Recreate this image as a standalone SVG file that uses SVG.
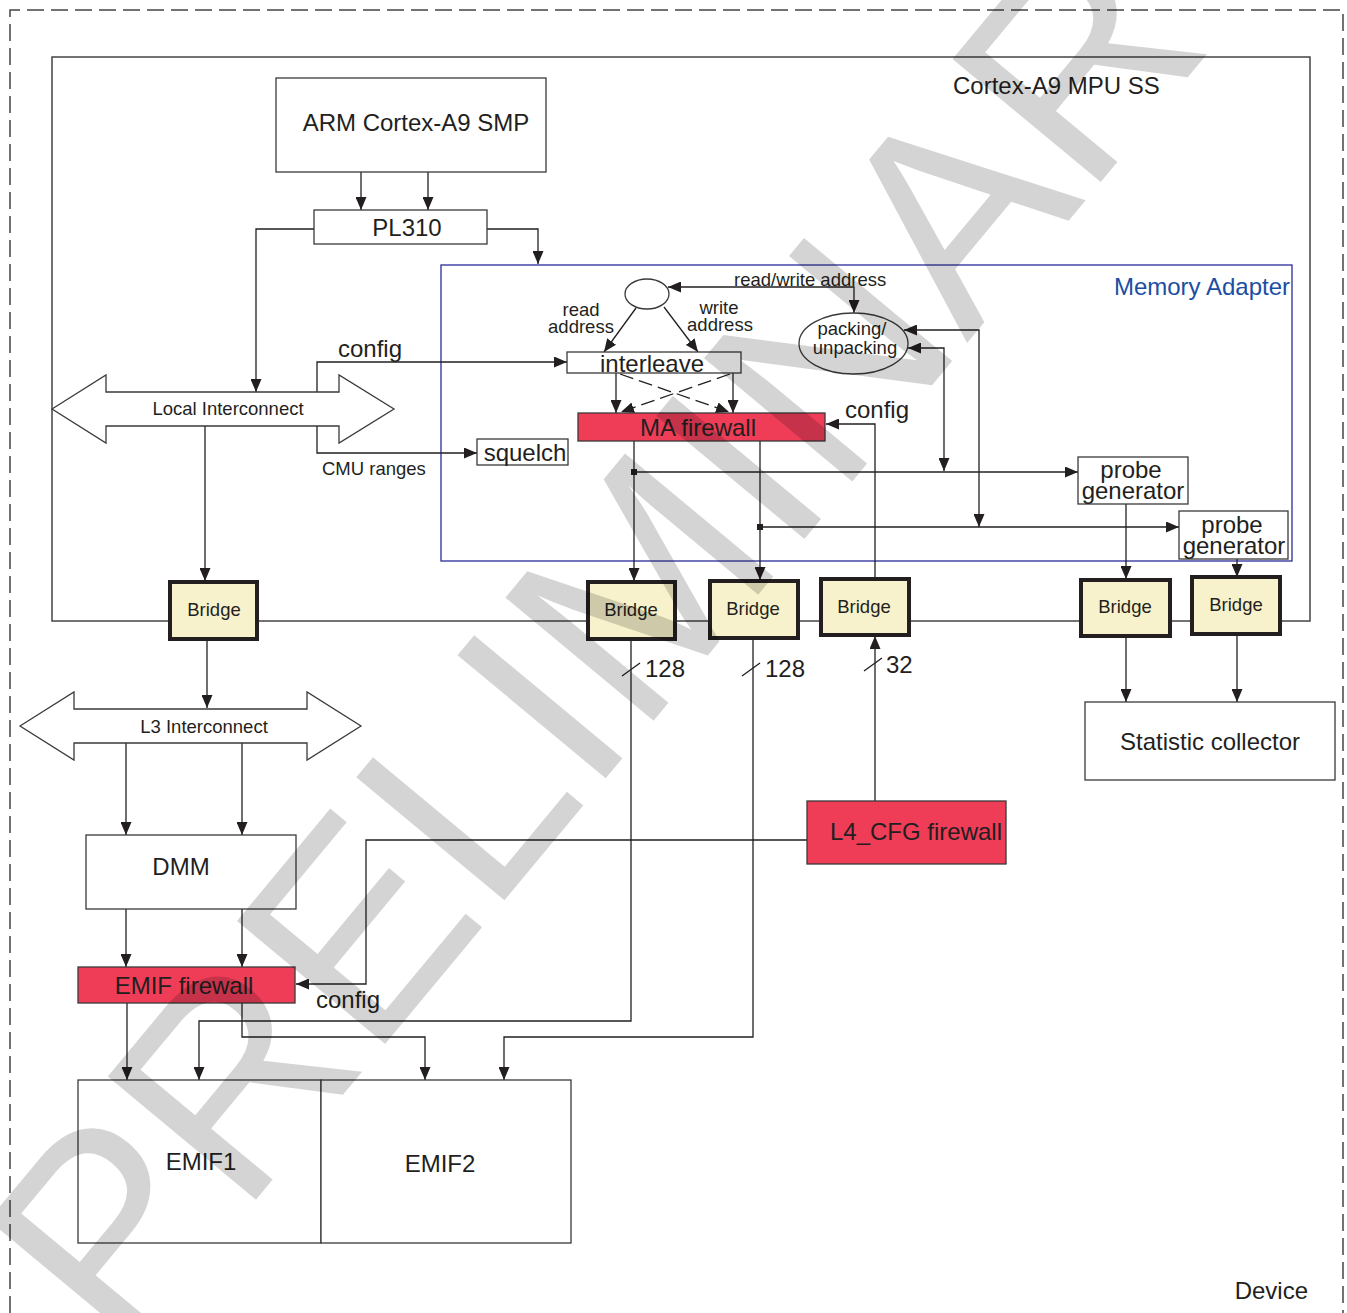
<svg xmlns="http://www.w3.org/2000/svg" width="1347" height="1313" viewBox="0 0 1347 1313">
<defs>
<marker id="ah" viewBox="0 0 13 11" refX="13" refY="5.5" markerWidth="13" markerHeight="11" markerUnits="userSpaceOnUse" orient="auto-start-reverse"><path d="M0,0L13,5.5L0,11z" fill="#231f20"/></marker>
</defs>
<style>
text{font-family:"Liberation Sans",Arial,sans-serif;fill:#231f20}
.L{font-size:24px}
.S{font-size:18.5px}
.m{text-anchor:middle}
.box{fill:#fff;stroke:#3a3a3a;stroke-width:1.3}
.red{fill:#ef3d58;stroke:#3a3a3a;stroke-width:1.3}
.br{fill:#f8f2cc;stroke:#231f20;stroke-width:4}
.c{fill:none;stroke:#231f20;stroke-width:1.3}
.a{marker-end:url(#ah)}
.b{marker-start:url(#ah);marker-end:url(#ah)}
</style>
<rect width="1347" height="1313" fill="#fff"/>
<g id="device">
<path d="M10,1313V10H1343V1313" fill="none" stroke="#444" stroke-width="1.5" stroke-dasharray="17 7"/>
<text class="L" x="1308" y="1298.5" text-anchor="end">Device</text>
</g>
<g id="mpu-ss">
<rect x="52" y="57" width="1258" height="564" fill="none" stroke="#444" stroke-width="1.5"/>
<text class="L" x="953" y="93.5">Cortex-A9 MPU SS</text>
</g>
<g id="memory-adapter">
<rect x="441" y="265" width="851" height="296" fill="none" stroke="#2b2b9c" stroke-width="1.3"/>
<text class="L" x="1290" y="294.5" text-anchor="end" style="fill:#1b4ea3">Memory Adapter</text>
</g>
<g id="connectors">
<path class="c a" d="M361,172V210"/>
<path class="c a" d="M428,172V210"/>
<path class="c a" d="M314,229H256V392"/>
<path class="c a" d="M487,229H538V264"/>
<path class="c a" d="M317,392V362H567"/>
<path class="c a" d="M317,426V453H477"/>
<path class="c a" d="M205,426V581"/>
<path class="c b" d="M668,287H854V313"/>
<path class="c a" d="M636,308L604,352"/>
<path class="c a" d="M664,307L698,352"/>
<path class="c a" d="M616,373V413"/>
<path class="c a" d="M733,373V413"/>
<path class="c a" d="M620,374L729,412" stroke-dasharray="14 6"/>
<path class="c a" d="M730,374L621,412" stroke-dasharray="14 6"/>
<path class="c a" d="M875,579V424H826"/>
<path class="c a" d="M634,441V581"/>
<path class="c a" d="M760,441V580"/>
<path class="c a" d="M634,472H1078"/>
<path class="c a" d="M760,527H1179"/>
<rect x="631" y="469" width="6" height="6" fill="#231f20"/>
<rect x="757" y="524" width="6" height="6" fill="#231f20"/>
<path class="c b" d="M904,330H979V527"/>
<path class="c b" d="M908,348H944V471"/>
<path class="c a" d="M1126,504V579"/>
<path class="c a" d="M1237,559V577"/>
<path class="c a" d="M207,639V708"/>
<path class="c a" d="M126,743V835"/>
<path class="c a" d="M242,743V835"/>
<path class="c a" d="M126,909V967"/>
<path class="c a" d="M242,909V967"/>
<path class="c a" d="M807,840H366V984H296"/>
<path class="c a" d="M127,1003V1080"/>
<path class="c a" d="M242,1003V1037H425V1080"/>
<path class="c a" d="M631,639V1021H199V1080"/>
<path class="c a" d="M753,638V1037H504V1080"/>
<path class="c a" d="M875,801V636"/>
<path class="c a" d="M1126,636V702"/>
<path class="c a" d="M1237,634V702"/>
<path class="c" d="M622,676L640,663M742,676L760,663M864,671L882,658"/>
<text class="L" x="645" y="676.5">128</text>
<text class="L" x="765" y="676.5">128</text>
<text class="L" x="886" y="672.5">32</text>
<text class="L m" x="370" y="356.5">config</text>
<text class="S" x="322" y="474.5">CMU ranges</text>
<text class="S" x="734" y="285.5">read/write address</text>
<text class="S m" x="581" y="316">read</text>
<text class="S m" x="581" y="333">address</text>
<text class="S m" x="719" y="314">write</text>
<text class="S m" x="720" y="331">address</text>
<text class="L m" x="877" y="417.5">config</text>
<text class="L m" x="348" y="1007.5">config</text>
</g>
<g id="arm">
<rect class="box" x="276" y="78" width="270" height="94"/>
<text class="L m" x="416" y="130.5">ARM Cortex-A9 SMP</text>
</g>
<g id="pl310">
<rect class="box" x="314" y="210" width="173" height="34"/>
<text class="L m" x="407" y="235.5">PL310</text>
</g>
<g id="local-interconnect">
<polygon class="box" points="52,409 106,375 106,392 339,392 339,375 394,409 339,443 339,426 106,426 106,443"/>
<text class="S m" x="228" y="414.5">Local Interconnect</text>
</g>
<g id="addr-node">
<ellipse class="box" cx="647" cy="294" rx="22" ry="15"/>
</g>
<g id="packing">
<ellipse class="box" cx="853.5" cy="343.5" rx="54.5" ry="30.5"/>
<text class="S m" x="852" y="334.5">packing/</text>
<text class="S m" x="855" y="353.5">unpacking</text>
</g>
<g id="interleave">
<rect class="box" x="567" y="352" width="174" height="21"/>
<text class="L m" x="652" y="371.5">interleave</text>
</g>
<g id="ma-firewall">
<rect class="red" x="578" y="413" width="247" height="28"/>
<text class="L m" x="698" y="435.5">MA firewall</text>
</g>
<g id="squelch">
<rect class="box" x="477" y="439" width="91" height="26"/>
<text class="L m" x="525" y="460.5">squelch</text>
</g>
<g id="probe1">
<rect class="box" x="1078" y="457" width="110" height="47"/>
<text class="L m" x="1131" y="477.5">probe</text>
<text class="L m" x="1133" y="498.5">generator</text>
</g>
<g id="probe2">
<rect class="box" x="1179" y="511" width="109" height="48"/>
<text class="L m" x="1232" y="532.5">probe</text>
<text class="L m" x="1234" y="553.5">generator</text>
</g>
<g id="bridge0"><rect class="br" x="170" y="582" width="87" height="57"/><text class="S m" x="214" y="615.5">Bridge</text></g>
<g id="bridge1"><rect class="br" x="588" y="582" width="87" height="57"/><text class="S m" x="631" y="615.5">Bridge</text></g>
<g id="bridge2"><rect class="br" x="710" y="581" width="88" height="57"/><text class="S m" x="753" y="614.5">Bridge</text></g>
<g id="bridge3"><rect class="br" x="821" y="579" width="88" height="56"/><text class="S m" x="864" y="612.5">Bridge</text></g>
<g id="bridge4"><rect class="br" x="1081" y="580" width="89" height="56"/><text class="S m" x="1125" y="612.5">Bridge</text></g>
<g id="bridge5"><rect class="br" x="1192" y="577" width="88" height="57"/><text class="S m" x="1236" y="610.5">Bridge</text></g>
<g id="l3-interconnect">
<polygon class="box" points="20,726 74,692 74,709 307,709 307,692 361,726 307,760 307,743 74,743 74,760"/>
<text class="S m" x="204" y="732.5">L3 Interconnect</text>
</g>
<g id="stat">
<rect class="box" x="1085" y="702" width="250" height="78"/>
<text class="L m" x="1210" y="749.5">Statistic collector</text>
</g>
<g id="l4cfg">
<rect class="red" x="807" y="801" width="199" height="63"/>
<text class="L m" x="916" y="839.5">L4_CFG firewall</text>
</g>
<g id="dmm">
<rect class="box" x="86" y="835" width="210" height="74"/>
<text class="L m" x="181" y="874.5">DMM</text>
</g>
<g id="emif-firewall">
<rect class="red" x="78" y="967" width="217" height="36"/>
<text class="L m" x="184" y="993.5">EMIF firewall</text>
</g>
<g id="emif1">
<rect class="box" x="78" y="1080" width="243" height="163"/>
<text class="L m" x="201" y="1169.5">EMIF1</text>
</g>
<g id="emif2">
<rect class="box" x="321" y="1080" width="250" height="163"/>
<text class="L m" x="440" y="1171.5">EMIF2</text>
</g>
<g id="watermark">
<text x="0" y="0" transform="translate(122,1361) rotate(-50.3)" style="font-size:280px;fill:#000;fill-opacity:0.17">PRELIMINARY</text>
</g>
</svg>
